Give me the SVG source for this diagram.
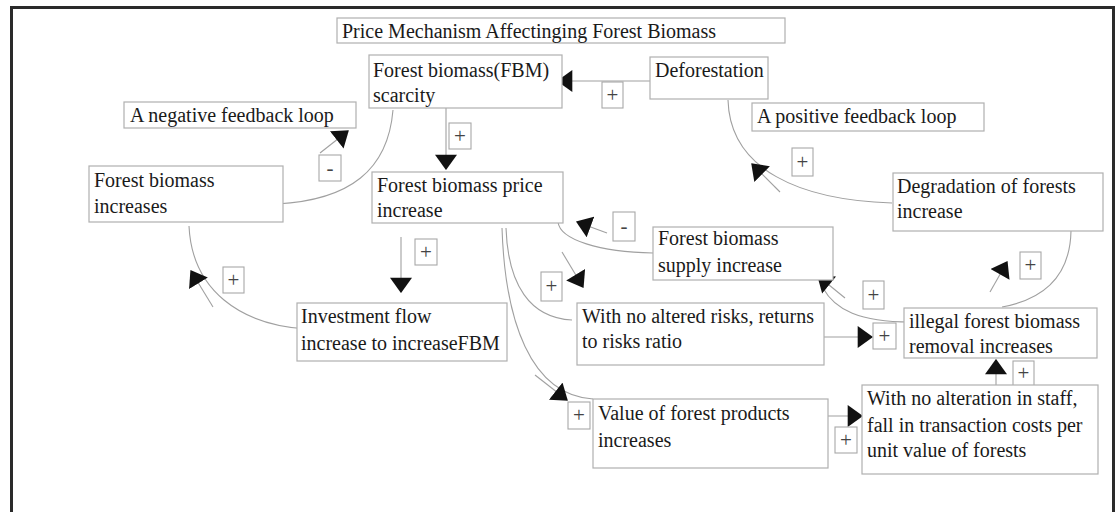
<svg xmlns="http://www.w3.org/2000/svg" width="1117" height="512" viewBox="0 0 1117 512">
<style>
.box{fill:#fff;stroke:#b0b0b0;stroke-width:1.2}
.t{font-family:"Liberation Serif","Times New Roman",serif;font-size:20px;fill:#1a1a1a}
.lb{fill:#fff;stroke:#a8a8a8;stroke-width:1.1}
.lt{font-family:"Liberation Serif","Times New Roman",serif;font-size:21px;fill:#444;text-anchor:middle}
.c{fill:none;stroke:#a0a0a0;stroke-width:1.1}
.a{fill:none;stroke:#a0a0a0;stroke-width:1.1;marker-end:url(#ah)}
</style>
<defs>
<marker id="ah" markerUnits="userSpaceOnUse" markerWidth="16" markerHeight="22" viewBox="0 0 14 20" refX="13" refY="10" orient="auto">
<path d="M0,0 L14,10 L0,20 z" fill="#111"/>
</marker>
</defs>
<rect x="0" y="0" width="1117" height="512" fill="#fff"/>
<path d="M11.5,520 V7.5 H1113.5 V520" fill="none" stroke="#2a2a2a" stroke-width="3"/>

<g id="connectors">
<path class="c" d="M393 110 C 388 170, 350 200, 277 204"/>
<path class="c" d="M189 226 C 192 290, 240 325, 307 329"/>
<path class="c" d="M728 100 C 730 170, 800 200, 892 203"/>
<path class="c" d="M1071 231 C 1070 280, 1040 300, 1002 307"/>
<path class="c" d="M910 322 C 860 322, 835 310, 823 288"/>
<path class="c" d="M653 253 C 600 252, 560 240, 558 222"/>
<path class="c" d="M506 228 C 508 285, 530 318, 572 320"/>
<path class="c" d="M502 228 C 505 320, 530 395, 593 399"/>
<path class="a" d="M650 81 L558 81"/>
<path class="a" d="M446 108 L446 169"/>
<path class="a" d="M320 153 L348 131"/>
<path class="a" d="M401 237 L401 292"/>
<path class="a" d="M213 307 L191 271"/>
<path class="a" d="M780 192 L752 164"/>
<path class="a" d="M607 233 L577 222"/>
<path class="a" d="M562 252 L583 287"/>
<path class="a" d="M535 375 L567 400"/>
<path class="a" d="M824 337 L872 337"/>
<path class="a" d="M828 416 L862 416"/>
<path class="a" d="M996 385 L996 360"/>
<path class="a" d="M845 298 L818 276"/>
<path class="a" d="M990 292 L1007 262"/>
</g>

<g id="labels">
<rect class="lb" x="602" y="82" width="21" height="26"/><text class="lt" x="612.5" y="102">+</text>
<rect class="lb" x="449" y="123" width="22" height="26"/><text class="lt" x="460" y="143">+</text>
<rect class="lb" x="319" y="155" width="22" height="26"/><text class="lt" x="330" y="175">-</text>
<rect class="lb" x="415" y="239" width="22" height="26"/><text class="lt" x="426" y="259">+</text>
<rect class="lb" x="223" y="267" width="21" height="26"/><text class="lt" x="233.5" y="287">+</text>
<rect class="lb" x="792" y="148" width="21" height="28"/><text class="lt" x="802.5" y="169">+</text>
<rect class="lb" x="613" y="212" width="22" height="29"/><text class="lt" x="624" y="233">-</text>
<rect class="lb" x="541" y="272" width="21" height="29"/><text class="lt" x="551.5" y="293">+</text>
<rect class="lb" x="863" y="281" width="21" height="28"/><text class="lt" x="873.5" y="302">+</text>
<rect class="lb" x="1020" y="252" width="21" height="27"/><text class="lt" x="1030.5" y="272">+</text>
<rect class="lb" x="873" y="323" width="23" height="26"/><text class="lt" x="884.5" y="343">+</text>
<rect class="lb" x="1013" y="361" width="21" height="25"/><text class="lt" x="1023.5" y="380">+</text>
<rect class="lb" x="568" y="402" width="22" height="27"/><text class="lt" x="579" y="422">+</text>
<rect class="lb" x="835" y="427" width="22" height="26"/><text class="lt" x="846" y="447">+</text>
</g>

<g id="title"><rect class="box" x="337" y="18" width="448" height="25"/><text class="t" x="342" y="38">Price Mechanism Affectinging Forest Biomass</text></g>
<g id="fbm-scarcity"><rect class="box" x="369" y="55" width="193" height="53"/><text class="t" x="373" y="77">Forest biomass(FBM)</text><text class="t" x="373" y="102">scarcity</text></g>
<g id="deforestation"><rect class="box" x="650" y="57" width="118" height="42"/><text class="t" x="655" y="77">Deforestation</text></g>
<g id="negative-loop"><rect class="box" x="124" y="102" width="232" height="26"/><text class="t" x="130" y="122">A negative feedback loop</text></g>
<g id="positive-loop"><rect class="box" x="752" y="103" width="232" height="28"/><text class="t" x="757" y="123">A positive feedback loop</text></g>
<g id="fbm-increases"><rect class="box" x="89" y="166" width="194" height="56"/><text class="t" x="94" y="187">Forest biomass</text><text class="t" x="94" y="213">increases</text></g>
<g id="price-increase"><rect class="box" x="372" y="172" width="191" height="51"/><text class="t" x="377" y="192">Forest biomass price</text><text class="t" x="377" y="217">increase</text></g>
<g id="degradation"><rect class="box" x="893" y="173" width="210" height="58"/><text class="t" x="897" y="193">Degradation of forests</text><text class="t" x="897" y="218">increase</text></g>
<g id="supply"><rect class="box" x="653" y="227" width="180" height="53"/><text class="t" x="658" y="245">Forest biomass</text><text class="t" x="658" y="272">supply increase</text></g>
<g id="investment"><rect class="box" x="297" y="303" width="210" height="58"/><text class="t" x="301" y="323">Investment flow</text><text class="t" x="301" y="350">increase to increaseFBM</text></g>
<g id="risks"><rect class="box" x="577" y="303" width="247" height="62"/><text class="t" x="582" y="323">With no altered risks, returns</text><text class="t" x="582" y="348">to risks ratio</text></g>
<g id="illegal"><rect class="box" x="904" y="308" width="193" height="50"/><text class="t" x="909" y="328">illegal forest biomass</text><text class="t" x="909" y="353">removal increases</text></g>
<g id="value"><rect class="box" x="593" y="399" width="235" height="69"/><text class="t" x="598" y="420">Value of forest products</text><text class="t" x="598" y="447">increases</text></g>
<g id="staff"><rect class="box" x="862" y="385" width="236" height="89"/><text class="t" x="867" y="405">With no alteration in staff,</text><text class="t" x="867" y="432">fall in transaction costs per</text><text class="t" x="867" y="457">unit value of forests</text></g>
</svg>
